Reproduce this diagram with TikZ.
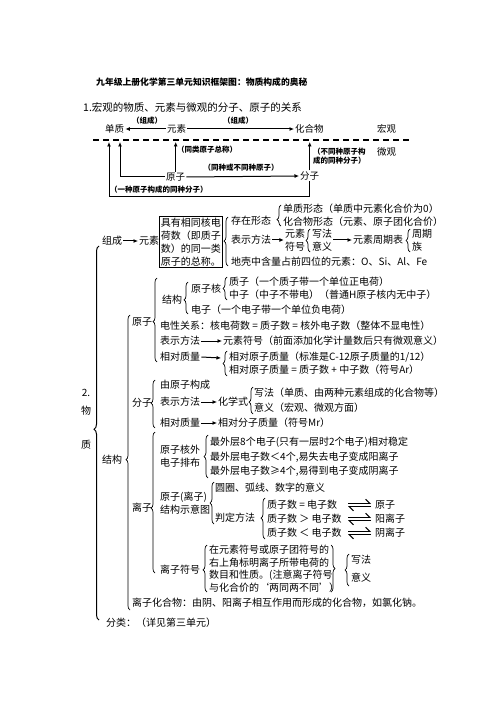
\documentclass[tikz,border=0pt]{standalone}
\usepackage{fontspec}
\newfontfamily\cjk{Noto Sans CJK SC}
\usetikzlibrary{arrows.meta,decorations.pathreplacing}
\tikzset{
  txt/.style={font=\cjk\fontsize{10}{13}\selectfont, inner sep=1pt, anchor=west, align=left},
  top/.style={font=\cjk\fontsize{9.5}{11}\selectfont, inner sep=1pt, anchor=west},
  lbl/.style={font=\cjk\bfseries\fontsize{7.5}{9.5}\selectfont, inner sep=0pt, align=left},
  arr/.style={-{Latex[length=4.5pt,width=4pt]}, line width=1pt},
  brc/.style={decorate, decoration={brace, amplitude=4pt, aspect=#1}, line width=0.7pt},
  brc/.default=0.5,
  harp/.style={-{Straight Barb[left,length=4pt]}, line width=1.2pt}
}
\begin{document}
\begin{tikzpicture}[x=1pt,y=-1pt]
  \useasboundingbox[fill=white] (0,0) rectangle (500,708);

  \node[font=\cjk\bfseries\fontsize{8.8}{10}\selectfont, anchor=west, inner sep=0pt] (title) at (96,82) {九年级上册化学第三单元知识框架图：物质构成的奥秘};
  \node[font=\cjk\fontsize{10.5}{12}\selectfont, anchor=west, inner sep=0pt] (head) at (83,107) {1.宏观的物质、元素与微观的分子、原子的关系};

  \node[top] (dz) at (104,129) {单质};
  \node[top] (ys) at (166,129) {元素};
  \node[top] (hhw) at (294,129) {化合物};
  \node[top] (hg) at (376,129) {宏观};
  \node[top] (wg) at (376,152) {微观};
  \node[top] (yz) at (165,177) {原子};
  \node[top] (fz) at (299,176) {分子};

  \coordinate (sepL) at (93,140);
  \coordinate (sepR) at (412,140);
  \coordinate (d1) at (109,142);
  \coordinate (d2) at (120,142);
  \coordinate (c1) at (109,197);

  \draw[line width=1.4pt, dash pattern=on 6pt off 4pt] (sepL) -- (sepR);
  \draw[arr] (ys.west) -- (dz.east);
  \draw[arr] (ys.east) -- (hhw.west);
  \draw[arr] (yz.north) -- (yz.north |- d1);
  \draw[arr] (yz.west) -| (d2);
  \draw[arr] (yz.east) -- (fz.west);
  \draw[arr] (fz.north) -- (fz.north |- d1);
  \draw[arr] (fz.south) |- (c1) -- (d1);

  \node[lbl] (l1) at (147,121) {（组成）};
  \node[lbl] (l2) at (238,121) {（组成）};
  \node[lbl, anchor=west] (l3) at (177,150) {（同类原子总称）};
  \node[lbl] (l4) at (241,168) {（同种或不同种原子）};
  \node[lbl, anchor=west] (l5) at (313,156) {（不同种原子构\\成的同种分子）};
  \node[lbl, anchor=west] (l6) at (110,190) {（一种原子构成的同种分子）};

  \node[txt, anchor=center] (n2) at (86,393) {2.};
  \node[txt, anchor=center] (wu) at (86,411) {物};
  \node[txt, anchor=center] (zhi) at (86,445) {质};
  \draw[brc=0.51, line width=1pt, decoration={amplitude=5pt}] (99,620) -- (99,246);

  \node[txt] (zc) at (101,241) {组成};
  \node[txt] (ys2) at (138,241) {元素};
  \draw[arr] (zc.east) -- (ys2.west);
  \node[txt, draw, line width=0.6pt, inner sep=1.5pt] (def) at (159,242) {具有相同核电\\荷数（即质子\\数）的同一类\\原子的总称。};

  \draw[brc=0.51] (228,266) -- (228,217);
  \node[txt] (cz) at (230,221) {存在形态};
  \node[txt] (bs) at (230,240) {表示方法};
  \node[txt] (dk) at (230,262) {地壳中含量占前四位的元素：O、Si、Al、Fe};
  \draw[brc=0.3] (281,226) -- (281,205);
  \node[txt] (dzxt) at (282,209) {单质形态（单质中元素化合价为0）};
  \node[txt] (hhxt) at (282,222) {化合物形态（元素、原子团化合价）};
  \node[txt, align=center, anchor=center] (fh) at (295,240) {元素\\符号};
  \draw[arr] (bs.east) -- (fh.west);
  \draw[brc] (310,252) -- (310,229);
  \node[txt] (xy) at (311,240) {写法\\意义};
  \node[txt] (zqb) at (352,240) {元素周期表};
  \draw[arr] (xy.east) -- (zqb.west);
  \draw[brc] (410,252) -- (410,229);
  \node[txt] (zq) at (411,240) {周期\\族};

  \node[txt] (jg) at (101,460) {结构};
  \draw[brc=0.51] (130,610) -- (130,315);

  \node[txt] (yz2) at (131,322) {原子};
  \draw[brc=0.48] (157,362) -- (157,278);
  \node[txt] (jg2) at (161,300) {结构};
  \draw[brc=0.44] (188,314) -- (188,282);
  \node[txt] (yzh) at (190,289) {原子核};
  \node[txt] (dzi) at (190,310) {电子（一个电子带一个单位负电荷）};
  \draw[brc] (227,300) -- (227,277);
  \node[txt] (zz) at (228,282) {质子（一个质子带一个单位正电荷）};
  \node[txt] (zhz) at (228,295) {中子（中子不带电）（普通H原子核内无中子）};
  \node[txt] (dx) at (159,326) {电性关系：核电荷数 = 质子数 = 核外电子数（整体不显电性）};
  \node[txt] (bs2) at (159,341) {表示方法};
  \node[txt] (ysfh) at (222,341) {元素符号（前面添加化学计量数后只有微观意义）};
  \draw[arr] (bs2.east) -- (ysfh.west);
  \node[txt] (xd) at (159,357) {相对质量};
  \coordinate (xdb) at (221,358);
  \draw[arr] (xd.east) -- (xdb);
  \draw[brc] (227,376) -- (227,351);
  \node[txt] (xdyz1) at (228,357) {相对原子质量（标准是C-12原子质量的1/12）};
  \node[txt] (xdyz2) at (228,370) {相对原子质量 = 质子数 + 中子数（符号Ar）};

  \node[txt] (fz2) at (131,403) {分子};
  \draw[brc=0.52] (155,428) -- (155,380);
  \node[txt] (yzgc) at (159,385) {由原子构成};
  \node[txt] (bs3) at (159,402) {表示方法};
  \node[txt] (hxs) at (217,402) {化学式};
  \draw[arr] (bs3.east) -- (hxs.west);
  \draw[brc=0.44] (253,414) -- (253,387);
  \node[txt] (xf) at (253,393) {写法（单质、由两种元素组成的化合物等）};
  \node[txt] (yy) at (253,408) {意义（宏观、微观方面）};
  \node[txt] (xd2) at (159,423) {相对质量};
  \node[txt] (xdfz) at (217,423) {相对分子质量（符号Mr）};
  \draw[arr] (xd2.east) -- (xdfz.west);

  \node[txt] (lz) at (131,508) {离子};
  \draw[brc=0.46] (155,573) -- (155,432);
  \node[txt] (hwpb) at (159,456) {原子核外\\电子排布};
  \draw[brc] (208,478) -- (208,435);
  \node[txt] (pb1) at (209,442) {最外层8个电子(只有一层时2个电子)相对稳定};
  \node[txt] (pb2) at (209,457) {最外层电子数＜4个,易失去电子变成阳离子};
  \node[txt] (pb3) at (209,471) {最外层电子数≥4个,易得到电子变成阴离子};

  \node[txt] (jgt) at (159,503) {原子(离子)\\结构示意图};
  \draw[brc] (214,524) -- (214,482);
  \node[txt] (yh) at (214,488) {圆圈、弧线、数字的意义};
  \node[txt] (pdff) at (214,518) {判定方法};
  \draw[brc=0.51] (265,539) -- (265,498);
  \node[txt] (pd1) at (266,505) {质子数 = 电子数};
  \node[txt] (pd2) at (266,519) {质子数 ＞ 电子数};
  \node[txt] (pd3) at (266,533) {质子数 ＜ 电子数};
  \node[txt] (r1) at (374,505) {原子};
  \node[txt] (r2) at (374,519) {阳离子};
  \node[txt] (r3) at (374,533) {阴离子};
  \foreach \r in {r1,r2,r3}{
    \draw[harp] ([xshift=-26pt,yshift=1.8pt]\r.west) -- ([xshift=-3pt,yshift=1.8pt]\r.west);
    \draw[harp] ([xshift=-3pt,yshift=-1.8pt]\r.west) -- ([xshift=-26pt,yshift=-1.8pt]\r.west);
  }

  \node[txt] (lzfh) at (159,570) {离子符号};
  \draw[brc=0.47] (207,592) -- (207,545);
  \node[txt, font=\cjk\fontsize{10}{12.5}\selectfont] (fhsm) at (208,569) {在元素符号或原子团符号的\\右上角标明离子所带电荷的\\数目和性质。(注意离子符号\\与化合价的‘两同两不同’）};
  \draw[brc] (331,545) -- (331,592);
  \draw[brc] (349,586) -- (349,554);
  \node[txt] (xf2) at (350,560) {写法};
  \node[txt] (yy2) at (350,578) {意义};

  \node[txt] (lzhhw) at (131,603) {离子化合物：由阴、阳离子相互作用而形成的化合物，如氯化钠。};
  \node[txt] (fl) at (105,623) {分类：（详见第三单元）};
\end{tikzpicture}
\end{document}
